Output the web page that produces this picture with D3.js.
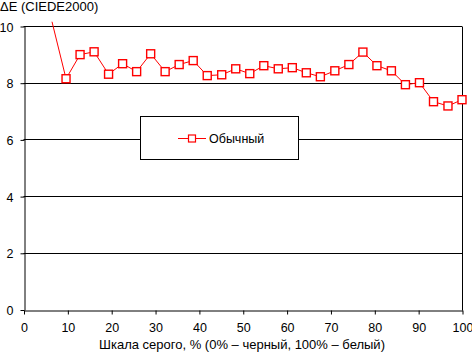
<!DOCTYPE html>
<html>
<head>
<meta charset="utf-8">
<script src="https://cdn.jsdelivr.net/npm/d3@7"></script>
<style>
  html, body { margin: 0; padding: 0; background: #fff; }
  svg { display: block; font-family: "Liberation Sans", Arial, sans-serif; }
</style>
</head>
<body>
<div id="chart"></div>
<script>
// Данные: шкала серого (%) и ΔE
const grayLevels = [6.5, 9.7, 12.9, 16.1, 19.4, 22.6, 25.8, 29.0, 32.3, 35.5, 38.7, 41.9, 45.2, 48.4, 51.6,
  54.8, 58.1, 61.3, 64.5, 67.7, 71.0, 74.2, 77.4, 80.6, 83.9, 87.1, 90.3, 93.5, 96.8, 100];
const deltaE = [10.15, 8.14, 8.99, 9.09, 8.30, 8.67, 8.39, 9.02, 8.39, 8.64, 8.78, 8.25, 8.28, 8.49, 8.32,
  8.60, 8.49, 8.53, 8.35, 8.21, 8.42, 8.64, 9.08, 8.60, 8.42, 7.93, 8.00, 7.33, 7.18, 7.40];
const xTicks = [0, 10, 20, 30, 40, 50, 60, 70, 80, 90, 100];
const yTicks = [0, 2, 4, 6, 8, 10];
const seriesName = "Обычный";

(function () {
  const W = 472, H = 352;
  const RED = "#ff0000";

  const svg = d3.select("#chart").append("svg")
    .attr("width", W).attr("height", H);

  const x = d3.scaleLinear().domain([0, 100]).range([23.5, 462]);
  const y = d3.scaleLinear().domain([0, 10]).range([309.5, 26]);

  // сетка
  svg.append("g")
    .selectAll("line")
    .data(yTicks.filter((d) => d > 0))
    .join("line")
    .attr("x1", x(0)).attr("x2", x(100))
    .attr("y1", (d) => Math.round(y(d)) + 0.5)
    .attr("y2", (d) => Math.round(y(d)) + 0.5)
    .attr("stroke", "#000");

  // правая граница
  svg.append("line")
    .attr("x1", Math.round(x(100)) + 0.5).attr("x2", Math.round(x(100)) + 0.5)
    .attr("y1", Math.round(y(10)) + 0.5).attr("y2", Math.round(y(0)) + 0.5)
    .attr("stroke", "#000");

  // оси
  const xAxis = svg.append("g")
    .attr("transform", `translate(0.5,${Math.round(y(0)) + 0.5})`)
    .call(d3.axisBottom(x).tickValues(xTicks).tickSize(4).tickPadding(9).tickSizeOuter(0));
  const yAxis = svg.append("g")
    .attr("transform", `translate(${Math.round(x(0)) + 0.5},0.5)`)
    .call(d3.axisLeft(y).tickValues(yTicks).tickSize(4).tickPadding(7).tickSizeOuter(0));

  [xAxis, yAxis].forEach((g) => {
    g.select(".domain").attr("stroke", "#000");
    g.selectAll(".tick line").attr("stroke", "#000");
    g.selectAll(".tick text")
      .attr("fill", "#000")
      .style("font-size", "12.5px")
      .style("font-family", "'Liberation Sans', Arial, sans-serif");
  });
  yAxis.selectAll(".tick text").attr("dy", "0.36em");
  xAxis.selectAll(".tick text").attr("dy", "0.71em");

  // подписи осей
  svg.append("text")
    .attr("x", 0).attr("y", 11)
    .style("font-size", "13px")
    .text("ΔE (CIEDE2000)");

  svg.append("text")
    .attr("x", 242).attr("y", 349)
    .attr("text-anchor", "middle")
    .style("font-size", "13px")
    .text("Шкала серого, % (0% – черный, 100% – белый)");

  // линия серии
  const pts = grayLevels.map((g, i) => ({ g, v: deltaE[i] }));
  const line = d3.line().x((d) => x(d.g)).y((d) => y(d.v));

  svg.append("path")
    .datum(pts)
    .attr("d", line)
    .attr("fill", "none")
    .attr("stroke", RED)
    .attr("stroke-width", 1);

  // маркеры (только внутри диапазона оси)
  const m = 8;
  svg.append("g")
    .selectAll("rect")
    .data(pts.filter((d) => d.v <= 10))
    .join("rect")
    .attr("x", (d) => x(d.g) - m / 2)
    .attr("y", (d) => y(d.v) - m / 2)
    .attr("width", m).attr("height", m)
    .attr("fill", "#fff")
    .attr("stroke", RED)
    .attr("stroke-width", 1.4);

  // легенда
  const lg = svg.append("g");
  lg.append("rect")
    .attr("x", 140.5).attr("y", 116.5)
    .attr("width", 158).attr("height", 43)
    .attr("fill", "#fff")
    .attr("stroke", "#000");
  lg.append("line")
    .attr("x1", 178).attr("x2", 206)
    .attr("y1", 138.5).attr("y2", 138.5)
    .attr("stroke", RED);
  lg.append("rect")
    .attr("x", 188.5).attr("y", 135)
    .attr("width", 7).attr("height", 7)
    .attr("fill", "#fff")
    .attr("stroke", RED)
    .attr("stroke-width", 1.2);
  lg.append("text")
    .attr("x", 209).attr("y", 142.5)
    .style("font-size", "12.5px")
    .text(seriesName);
})();
</script>
</body>
</html>
